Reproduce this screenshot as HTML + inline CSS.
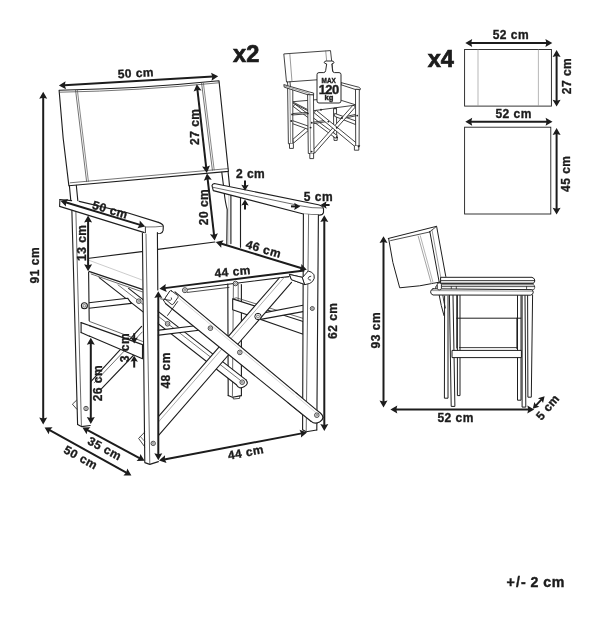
<!DOCTYPE html>
<html><head><meta charset="utf-8"><title>Chair dimensions</title>
<style>
html,body{margin:0;padding:0;background:#fff;}
body{width:608px;height:619px;overflow:hidden;font-family:"Liberation Sans",sans-serif;}
svg{display:block;filter:grayscale(1);}
</style></head><body>
<svg width="608" height="619" viewBox="0 0 608 619" font-family="'Liberation Sans', sans-serif">
<g>
<path d="M224.2 193 Q225.4 203 227.2 209.5 L226.8 244.2" fill="none" stroke="#1e1e1e" stroke-width="1.12" stroke-linejoin="round" stroke-linecap="round"/>
<line x1="228.8" y1="194.2" x2="228.8" y2="244" stroke="#999" stroke-width="0.5" stroke-linecap="round"/>
<line x1="230.9" y1="194.6" x2="230.9" y2="243.6" stroke="#1e1e1e" stroke-width="1.12" stroke-linecap="round"/>
<line x1="240.5" y1="196.8" x2="240.5" y2="247.2" stroke="#1e1e1e" stroke-width="1.12" stroke-linecap="round"/>
<line x1="227.8" y1="284" x2="228.2" y2="395.6" stroke="#1e1e1e" stroke-width="1.12" stroke-linecap="round"/>
<line x1="233.4" y1="283.5" x2="232.4" y2="396" stroke="#444" stroke-width="0.8" stroke-linecap="round"/>
<line x1="241.4" y1="284.5" x2="241.4" y2="395.6" stroke="#1e1e1e" stroke-width="1.12" stroke-linecap="round"/>
<path d="M228.2 395.6 L232.4 397.2 L241.4 395.6" fill="none" stroke="#1e1e1e" stroke-width="1.12" stroke-linejoin="round" stroke-linecap="round" />
<path d="M233 397.2 L233.4 399 L239.6 398.4 L239.8 396.2" fill="none" stroke="#1e1e1e" stroke-width="0.8" stroke-linejoin="round" stroke-linecap="round" />
<line x1="238.2" y1="284" x2="238.2" y2="300" stroke="#444" stroke-width="0.75" stroke-linecap="round"/>
<path d="M232.7 298.9 L303.2 321.5 L303.2 334.2 L232.7 309.8 Z" fill="#fff" stroke="#1e1e1e" stroke-width="1.12" stroke-linejoin="round" stroke-linecap="round" />
<path d="M232.7 298.9 L236.4 297.8 L303.2 318.4" fill="none" stroke="#444" stroke-width="0.8" stroke-linejoin="round" stroke-linecap="round" />
<polygon points="259.8,313.6 303,305.2 303,311.6 260.7,319.4" fill="#fff"/>
<line x1="259.8" y1="313.6" x2="303" y2="305.2" stroke="#1e1e1e" stroke-width="1.12" stroke-linecap="round"/>
<line x1="260.7" y1="319.4" x2="303" y2="311.6" stroke="#1e1e1e" stroke-width="1.12" stroke-linecap="round"/>
<circle cx="258" cy="316.5" r="3.2" fill="#fff" stroke="#1e1e1e" stroke-width="1.12"/>
<circle cx="258" cy="316.5" r="1.5" fill="#e8e8e8" stroke="#444" stroke-width="0.6"/>
<polygon points="112,275.4 246,379.92 236.2,384.54 99.2,277.68" fill="#fff"/>
<line x1="128.6" y1="288.35" x2="246" y2="379.92" stroke="#1e1e1e" stroke-width="1.12" stroke-linecap="round"/>
<line x1="99.2" y1="277.68" x2="236.4" y2="384.7" stroke="#1e1e1e" stroke-width="1.12" stroke-linecap="round"/>
<line x1="118" y1="284.86" x2="240" y2="380.02" stroke="#444" stroke-width="0.75" stroke-linecap="round"/>
<path d="M246 379.92 Q249.4 384 244 386.8 Q239 389.6 236.4 384.7" fill="#fff" stroke="#1e1e1e" stroke-width="1.12" stroke-linejoin="round" stroke-linecap="round"/>
<circle cx="242.2" cy="382.2" r="2.3" fill="#fff" stroke="#1e1e1e" stroke-width="0.8"/>
<circle cx="242.2" cy="382.2" r="1.03" fill="#ddd" stroke="#555" stroke-width="0.6"/>
<polygon points="141.6,326.4 90.4,382.2 101.6,388.6 142.4,346.0" fill="#fff"/>
<line x1="141.6" y1="326.4" x2="90.4" y2="382.2" stroke="#1e1e1e" stroke-width="1.12" stroke-linecap="round"/>
<line x1="142.4" y1="346" x2="101.6" y2="388.6" stroke="#1e1e1e" stroke-width="1.12" stroke-linecap="round"/>
<line x1="142.2" y1="332" x2="94.2" y2="382.8" stroke="#444" stroke-width="0.75" stroke-linecap="round"/>
<path d="M81.1 322.6 L142.5 344.6 L142.5 358.8 L81.1 332.6 Z" fill="#fff" stroke="#1e1e1e" stroke-width="1.12" stroke-linejoin="round" stroke-linecap="round" />
<path d="M81.1 322.6 L87.8 320.8 L142.5 341.4" fill="none" stroke="#444" stroke-width="0.8" stroke-linejoin="round" stroke-linecap="round" />
<path d="M86.7 303 L127.6 298.2 L131.4 303.4 L86.7 308.5" fill="#fff" stroke="#1e1e1e" stroke-width="1.12" stroke-linejoin="round" stroke-linecap="round" />
<circle cx="84.4" cy="305.8" r="3" fill="#fff" stroke="#1e1e1e" stroke-width="1.12"/>
<circle cx="84.4" cy="305.8" r="1.4" fill="#e8e8e8" stroke="#444" stroke-width="0.6"/>
<circle cx="138.8" cy="301.2" r="2.3" fill="#fff" stroke="#1e1e1e" stroke-width="0.8"/>
<circle cx="138.8" cy="301.2" r="1.03" fill="#ddd" stroke="#555" stroke-width="0.6"/>
<polygon points="88.9,271.4 142.4,289.4 142.4,292 91.2,274" fill="#fff"/>
<line x1="89.3" y1="260.4" x2="141.6" y2="279.8" stroke="#aaa" stroke-width="0.6" stroke-linecap="round"/>
<line x1="88.9" y1="271.4" x2="142.4" y2="289.4" stroke="#1e1e1e" stroke-width="1.2" stroke-linecap="round"/>
<line x1="91.2" y1="274" x2="142.4" y2="291.9" stroke="#444" stroke-width="0.8" stroke-linecap="round"/>
<line x1="89.2" y1="258.2" x2="141.8" y2="251.6" stroke="#1e1e1e" stroke-width="1.12" stroke-linecap="round"/>
<line x1="157.8" y1="249.4" x2="214.9" y2="242" stroke="#1e1e1e" stroke-width="1.12" stroke-linecap="round"/>
<path d="M187.6 289.2 L289 276.6" fill="none" stroke="#1e1e1e" stroke-width="1.12" stroke-linejoin="round" stroke-linecap="round" />
<path d="M187.4 292.4 L229 287.4" fill="none" stroke="#1e1e1e" stroke-width="0.8" stroke-linejoin="round" stroke-linecap="round" />
<circle cx="184.9" cy="290.2" r="2.5" fill="#fff" stroke="#1e1e1e" stroke-width="0.8"/>
<circle cx="184.9" cy="290.2" r="1.12" fill="#ddd" stroke="#555" stroke-width="0.6"/>
<circle cx="235.5" cy="283.5" r="2.3" fill="#fff" stroke="#1e1e1e" stroke-width="0.8"/>
<circle cx="235.5" cy="283.5" r="1.03" fill="#ddd" stroke="#555" stroke-width="0.6"/>
<path d="M155 330.6 L199.6 325.2 L203 329.8 L155 335.6" fill="#fff" stroke="#1e1e1e" stroke-width="1.12" stroke-linejoin="round" stroke-linecap="round" />
<circle cx="152.9" cy="333.2" r="2.9" fill="#fff" stroke="#1e1e1e" stroke-width="1.12"/>
<circle cx="152.9" cy="333.2" r="1.4" fill="#e8e8e8" stroke="#444" stroke-width="0.6"/>
<circle cx="167.6" cy="323.8" r="2.3" fill="#fff" stroke="#1e1e1e" stroke-width="0.8"/>
<circle cx="167.6" cy="323.8" r="1.03" fill="#ddd" stroke="#555" stroke-width="0.6"/>
<polygon points="279.7,277.5 158.4,416.6 158.4,435.6 291.5,282.4" fill="#fff"/>
<line x1="279.7" y1="277.5" x2="158.4" y2="416.6" stroke="#1e1e1e" stroke-width="1.12" stroke-linecap="round"/>
<line x1="291.5" y1="282.4" x2="158.4" y2="435.6" stroke="#1e1e1e" stroke-width="1.12" stroke-linecap="round"/>
<line x1="284.6" y1="277" x2="158.4" y2="422" stroke="#8a8a8a" stroke-width="0.7" stroke-linecap="round"/>
<circle cx="258" cy="316.5" r="3.2" fill="#fff" stroke="#1e1e1e" stroke-width="1"/>
<circle cx="258" cy="316.5" r="1.5" fill="#e8e8e8" stroke="#444" stroke-width="0.6"/>
<path d="M289.8 274.5 L302.6 277.4 L305 284.6 L291.8 279.8 Z" fill="#fff" stroke="#1e1e1e" stroke-width="0.95" stroke-linejoin="round" stroke-linecap="round" />
<path d="M302.6 277.4 L308.2 271.0 Q312.2 271.6 314.0 274.8 Q315.2 278.4 312.6 281.4 L309.8 283.4 L305.0 284.6 Z" fill="#fff" stroke="#1e1e1e" stroke-width="0.95" stroke-linejoin="round" stroke-linecap="round"/>
<path d="M310.8 276.2 Q308.4 276.2 308.2 278.4 Q308.6 280.4 310.6 280.2" fill="none" stroke="#1e1e1e" stroke-width="0.85" stroke-linejoin="round" stroke-linecap="round"/>
<polygon points="175,291.9 320.6,413.33 311.2,421.45 165.5,303.44" fill="#fff"/>
<line x1="175" y1="291.9" x2="320.6" y2="413.33" stroke="#1e1e1e" stroke-width="1.12" stroke-linecap="round"/>
<line x1="165.5" y1="303.44" x2="311.2" y2="421.45" stroke="#1e1e1e" stroke-width="1.12" stroke-linecap="round"/>
<line x1="172.6" y1="292.9" x2="318" y2="414.36" stroke="#aaa" stroke-width="0.5" stroke-linecap="round"/>
<line x1="170" y1="291.4" x2="163.6" y2="300.4" stroke="#1e1e1e" stroke-width="0.9" stroke-linecap="round"/>
<line x1="163.6" y1="300.4" x2="165.5" y2="303.44" stroke="#1e1e1e" stroke-width="0.9" stroke-linecap="round"/>
<path d="M320.6 413.33 Q325.6 417.6 320 421.6 Q315 424.8 311.2 421.45" fill="#fff" stroke="#1e1e1e" stroke-width="1.12" stroke-linejoin="round" stroke-linecap="round"/>
<line x1="177.6" y1="301.6" x2="167.6" y2="315.4" stroke="#1e1e1e" stroke-width="0.9" stroke-linecap="round"/>
<circle cx="210.4" cy="328.2" r="2.3" fill="#fff" stroke="#1e1e1e" stroke-width="0.8"/>
<circle cx="210.4" cy="328.2" r="1.03" fill="#ddd" stroke="#555" stroke-width="0.6"/>
<circle cx="239.8" cy="352.4" r="2.3" fill="#fff" stroke="#1e1e1e" stroke-width="0.8"/>
<circle cx="239.8" cy="352.4" r="1.03" fill="#ddd" stroke="#555" stroke-width="0.6"/>
<circle cx="316.8" cy="415.2" r="2.3" fill="#fff" stroke="#1e1e1e" stroke-width="0.8"/>
<circle cx="316.8" cy="415.2" r="1.03" fill="#ddd" stroke="#555" stroke-width="0.6"/>
<path d="M171.4 290.8 L177.6 295.4 Q178.6 296.4 177.8 297.6 L173.4 304 Q172.4 305 171.2 304.2 L165.8 299.6 Q164.8 298.6 165.6 297.4 L169.8 291 Q170.6 290.2 171.4 290.8 Z" fill="#fff" stroke="#1e1e1e" stroke-width="0.9" stroke-linejoin="round" stroke-linecap="round"/>
<path d="M160.6 298.8 L170.2 300.4 Q172.6 299.6 171.4 297.8" fill="none" stroke="#1e1e1e" stroke-width="0.8" stroke-linejoin="round" stroke-linecap="round"/>
<path d="M59.1 90.2 Q139 88.9 219 80.8 L228.4 171.4 L68.9 185.8 Q62.3 138 59.1 90.2 Z" fill="#fff" stroke="#1e1e1e" stroke-width="1.12" stroke-linejoin="round" stroke-linecap="round"/>
<path d="M60 92.2 Q139 90.8 218.8 82.8" fill="none" stroke="#444" stroke-width="0.75" stroke-linejoin="round" stroke-linecap="round"/>
<line x1="70.2" y1="182.8" x2="228" y2="168.6" stroke="#444" stroke-width="0.75" stroke-linecap="round"/>
<line x1="75.6" y1="90.4" x2="86.6" y2="181.5" stroke="#444" stroke-width="0.75" stroke-linecap="round"/>
<line x1="77.4" y1="90.3" x2="88.4" y2="181.3" stroke="#555" stroke-width="0.7" stroke-linecap="round"/>
<line x1="201.6" y1="83.2" x2="212.4" y2="170.2" stroke="#444" stroke-width="0.75" stroke-linecap="round"/>
<line x1="203.4" y1="83.1" x2="214.2" y2="170" stroke="#555" stroke-width="0.7" stroke-linecap="round"/>
<line x1="69.4" y1="185.8" x2="70.8" y2="200.6" stroke="#1e1e1e" stroke-width="1.12" stroke-linecap="round"/>
<line x1="76.3" y1="185.2" x2="77.9" y2="201.4" stroke="#1e1e1e" stroke-width="1.12" stroke-linecap="round"/>
<line x1="221.8" y1="172.4" x2="223.4" y2="185" stroke="#1e1e1e" stroke-width="1.12" stroke-linecap="round"/>
<line x1="228.1" y1="171.8" x2="229.5" y2="185.6" stroke="#1e1e1e" stroke-width="1.12" stroke-linecap="round"/>
<polygon points="71.8,207.5 77.6,424.5 81.4,426.6 90.2,425.5 88,213" fill="#fff"/>
<line x1="71.8" y1="207.5" x2="77.6" y2="424.5" stroke="#1e1e1e" stroke-width="1.12" stroke-linecap="round"/>
<line x1="75.8" y1="208.5" x2="81.4" y2="425.5" stroke="#444" stroke-width="0.8" stroke-linecap="round"/>
<line x1="88.6" y1="272" x2="89.2" y2="320.6" stroke="#1e1e1e" stroke-width="1.12" stroke-linecap="round"/>
<path d="M77.6 424.5 L81.4 426.6 L90.2 425.5" fill="none" stroke="#1e1e1e" stroke-width="1.12" stroke-linejoin="round" stroke-linecap="round" />
<circle cx="86" cy="408.5" r="2.2" fill="#fff" stroke="#1e1e1e" stroke-width="0.8"/>
<circle cx="86" cy="408.5" r="0.99" fill="#ddd" stroke="#555" stroke-width="0.6"/>
<path d="M76.4 400.4 L72.4 404.2 L76.8 409.2" fill="none" stroke="#1e1e1e" stroke-width="0.8" stroke-linejoin="round" stroke-linecap="round" />
<path d="M81.1 322.6 L81.1 332.6" fill="none" stroke="#1e1e1e" stroke-width="1.12" stroke-linejoin="round" stroke-linecap="round" />
<path d="M81.1 322.6 L90 325.8" fill="none" stroke="#1e1e1e" stroke-width="1.12" stroke-linejoin="round" stroke-linecap="round" />
<path d="M81.1 332.6 L90 336.4" fill="none" stroke="#1e1e1e" stroke-width="1.12" stroke-linejoin="round" stroke-linecap="round" />
<circle cx="84.4" cy="305.8" r="3" fill="#fff" stroke="#1e1e1e" stroke-width="1.12"/>
<circle cx="84.4" cy="305.8" r="1.4" fill="#e8e8e8" stroke="#444" stroke-width="0.6"/>
<polygon points="59.6,199.5 79.2,201.2 127.4,212.8 158.6,222.4 163.2,226 163,230.6 160.6,233.4 145.4,233.8 143.6,232.4 59.6,206.4" fill="#fff"/>
<path d="M59.9 199.5 L71.6 200.6" fill="none" stroke="#1e1e1e" stroke-width="1.12" stroke-linejoin="round" stroke-linecap="round" />
<path d="M79.2 201.4 L127.4 212.8 L158.4 222.4" fill="none" stroke="#1e1e1e" stroke-width="1.12" stroke-linejoin="round" stroke-linecap="round" />
<path d="M59.9 199.5 L59.6 206.4 L143.6 232.4" fill="none" stroke="#1e1e1e" stroke-width="1.12" stroke-linejoin="round" stroke-linecap="round" />
<path d="M158.4 222.4 Q162.6 223.6 163.3 226.2 L163.1 230.4 Q162.6 233 160.2 233.5 L145.4 233.8 L143.6 232.4" fill="none" stroke="#1e1e1e" stroke-width="1.12" stroke-linejoin="round" stroke-linecap="round"/>
<line x1="145.4" y1="227" x2="145.4" y2="233.8" stroke="#1e1e1e" stroke-width="0.9" stroke-linecap="round"/>
<path d="M145.4 227.0 Q156 227.2 163.2 226.2" fill="none" stroke="#444" stroke-width="0.75" stroke-linejoin="round" stroke-linecap="round"/>
<polygon points="142.4,233.2 144.8,462.6 149.8,464.4 158.4,461.6 157.4,232.6" fill="#fff"/>
<path d="M142.4 233.2 L144.8 462.6 L149.8 464.4 L158.4 461.6" fill="none" stroke="#1e1e1e" stroke-width="1.12" stroke-linejoin="round" stroke-linecap="round" />
<line x1="146" y1="234.2" x2="149.8" y2="464.4" stroke="#444" stroke-width="0.8" stroke-linecap="round"/>
<line x1="157.4" y1="232.6" x2="157.8" y2="290" stroke="#1e1e1e" stroke-width="1.12" stroke-linecap="round"/>
<circle cx="153.2" cy="443.4" r="2.2" fill="#fff" stroke="#1e1e1e" stroke-width="0.8"/>
<circle cx="153.2" cy="443.4" r="0.99" fill="#ddd" stroke="#555" stroke-width="0.6"/>
<path d="M144.6 432.2 L138.6 438.4 L144.7 446.8" fill="none" stroke="#1e1e1e" stroke-width="0.8" stroke-linejoin="round" stroke-linecap="round" />
<line x1="140.4" y1="436.6" x2="144.7" y2="441.4" stroke="#444" stroke-width="0.75" stroke-linecap="round"/>
<path d="M214.2 183.5 L318.4 204.8 Q323.4 206 323.5 209 L323.5 212.6 Q322.8 215.2 319.2 215.1 L303.4 214 L213.3 190.6 L212.0 185.6 Q212.2 184.2 214.2 183.5 Z" fill="#fff" stroke="#1e1e1e" stroke-width="1.12" stroke-linejoin="round" stroke-linecap="round"/>
<path d="M212.4 187.2 L301 205.9 Q312 208.4 322.8 208.0" fill="none" stroke="#444" stroke-width="0.8" stroke-linejoin="round" stroke-linecap="round"/>
<polygon points="303.4,214 302.6,429.8 306.2,431.8 316.8,430.0 318.4,215" fill="#fff"/>
<path d="M303.4 214 L302.6 429.8 L306.2 431.8 L316.8 430" fill="none" stroke="#1e1e1e" stroke-width="1.12" stroke-linejoin="round" stroke-linecap="round" />
<line x1="308.6" y1="214.6" x2="306.2" y2="431.8" stroke="#444" stroke-width="0.8" stroke-linecap="round"/>
<line x1="318.4" y1="215" x2="316.8" y2="430" stroke="#1e1e1e" stroke-width="1.12" stroke-linecap="round"/>
<circle cx="312.3" cy="308.5" r="2" fill="#fff" stroke="#1e1e1e" stroke-width="0.8"/>
<circle cx="312.3" cy="308.5" r="0.9" fill="#ddd" stroke="#555" stroke-width="0.6"/>
<path d="M289.8 274.5 L302.6 277.4 L305 284.6 L291.8 279.8 Z" fill="#fff" stroke="#1e1e1e" stroke-width="0.95" stroke-linejoin="round" stroke-linecap="round" />
<path d="M302.6 277.4 L308.2 271.0 Q312.2 271.6 314.0 274.8 Q315.2 278.4 312.6 281.4 L309.8 283.4 L305.0 284.6 Z" fill="#fff" stroke="#1e1e1e" stroke-width="0.95" stroke-linejoin="round" stroke-linecap="round"/>
<path d="M310.8 276.2 Q308.4 276.2 308.2 278.4 Q308.6 280.4 310.6 280.2" fill="none" stroke="#1e1e1e" stroke-width="0.85" stroke-linejoin="round" stroke-linecap="round"/>
<polygon points="296,392.81 320.6,413.33 322,419 311.2,421.45 288,402.66" fill="#fff"/>
<line x1="296" y1="392.81" x2="320.6" y2="413.33" stroke="#1e1e1e" stroke-width="1.12" stroke-linecap="round"/>
<line x1="288" y1="402.66" x2="311.2" y2="421.45" stroke="#1e1e1e" stroke-width="1.12" stroke-linecap="round"/>
<line x1="296" y1="395.91" x2="318" y2="414.36" stroke="#aaa" stroke-width="0.5" stroke-linecap="round"/>
<path d="M320.6 413.33 Q325.6 417.6 320 421.6 Q315 424.8 311.2 421.45" fill="#fff" stroke="#1e1e1e" stroke-width="1.12" stroke-linejoin="round" stroke-linecap="round"/>
<circle cx="316.8" cy="415.2" r="2.3" fill="#fff" stroke="#1e1e1e" stroke-width="0.8"/>
<circle cx="316.8" cy="415.2" r="1.03" fill="#ddd" stroke="#555" stroke-width="0.6"/>
<polygon points="58.9,85.6 65.56,81.2 64.79,85.26 66.02,89.19" fill="#1c1c1c"/>
<polygon points="218.2,76.3 211.54,80.7 212.31,76.64 211.08,72.71" fill="#1c1c1c"/>
<line x1="64.19" y1="85.29" x2="212.91" y2="76.61" stroke="#1c1c1c" stroke-width="2"/>
<text x="135.84" y="77.2" font-size="12" font-weight="bold" text-anchor="middle" fill="#1c1c1c" stroke="#1c1c1c" stroke-width="0.34" letter-spacing="0.48" transform="rotate(-3.3 135.6 72.9)">50 cm</text>
<polygon points="43.2,91.8 47.2,98.7 43.2,97.7 39.2,98.7" fill="#1c1c1c"/>
<polygon points="43.2,424.4 39.2,417.5 43.2,418.5 47.2,417.5" fill="#1c1c1c"/>
<line x1="43.2" y1="97.1" x2="43.2" y2="419.1" stroke="#1c1c1c" stroke-width="2"/>
<text x="35.04" y="269.7" font-size="12" font-weight="bold" text-anchor="middle" fill="#1c1c1c" stroke="#1c1c1c" stroke-width="0.34" letter-spacing="0.48" transform="rotate(-90 34.8 265.4)">91 cm</text>
<polygon points="196.8,84.2 201.55,90.61 197.46,90.06 193.6,91.5" fill="#1c1c1c"/>
<polygon points="206.8,172.9 202.05,166.49 206.14,167.04 210,165.6" fill="#1c1c1c"/>
<line x1="197.39" y1="89.47" x2="206.21" y2="167.63" stroke="#1c1c1c" stroke-width="2"/>
<text x="194.84" y="131.3" font-size="12" font-weight="bold" text-anchor="middle" fill="#1c1c1c" stroke="#1c1c1c" stroke-width="0.34" letter-spacing="0.48" transform="rotate(-90 194.6 127)">27 cm</text>
<polygon points="207,173.4 211.76,179.8 207.67,179.26 203.81,180.71" fill="#1c1c1c"/>
<polygon points="214.7,240.6 209.94,234.2 214.03,234.74 217.89,233.29" fill="#1c1c1c"/>
<line x1="207.6" y1="178.67" x2="214.1" y2="235.33" stroke="#1c1c1c" stroke-width="2"/>
<text x="203.44" y="211.5" font-size="12" font-weight="bold" text-anchor="middle" fill="#1c1c1c" stroke="#1c1c1c" stroke-width="0.34" letter-spacing="0.48" transform="rotate(-90 203.2 207.2)">20 cm</text>
<polygon points="60.4,200.8 68.16,198.96 66.05,202.51 65.85,206.62" fill="#1c1c1c"/>
<polygon points="145.2,226.4 137.44,228.24 139.55,224.69 139.75,220.58" fill="#1c1c1c"/>
<line x1="65.47" y1="202.33" x2="140.13" y2="224.87" stroke="#1c1c1c" stroke-width="2"/>
<text x="110.24" y="213.8" font-size="12" font-weight="bold" text-anchor="middle" fill="#1c1c1c" stroke="#1c1c1c" stroke-width="0.34" letter-spacing="0.48" transform="rotate(16.5 110 209.5)">50 cm</text>
<polygon points="88.1,215.6 92.1,222.5 88.1,221.5 84.1,222.5" fill="#1c1c1c"/>
<polygon points="88.1,271.2 84.1,264.3 88.1,265.3 92.1,264.3" fill="#1c1c1c"/>
<line x1="88.1" y1="220.9" x2="88.1" y2="265.9" stroke="#1c1c1c" stroke-width="2"/>
<text x="82.44" y="247.3" font-size="12" font-weight="bold" text-anchor="middle" fill="#1c1c1c" stroke="#1c1c1c" stroke-width="0.34" letter-spacing="0.48" transform="rotate(-90 82.2 243)">13 cm</text>
<polygon points="215.8,242 223.57,240.19 221.44,243.72 221.23,247.84" fill="#1c1c1c"/>
<polygon points="306.8,269.8 299.03,271.61 301.16,268.08 301.37,263.96" fill="#1c1c1c"/>
<line x1="220.87" y1="243.55" x2="301.73" y2="268.25" stroke="#1c1c1c" stroke-width="2"/>
<text x="263.64" y="253.1" font-size="12" font-weight="bold" text-anchor="middle" fill="#1c1c1c" stroke="#1c1c1c" stroke-width="0.34" letter-spacing="0.48" transform="rotate(16.5 263.4 248.8)">46 cm</text>
<polygon points="159.4,288.8 165.74,283.96 165.25,288.06 166.75,291.9" fill="#1c1c1c"/>
<line x1="164.66" y1="288.13" x2="304.4" y2="270.4" stroke="#1c1c1c" stroke-width="2"/>
<text x="232.64" y="275.7" font-size="12" font-weight="bold" text-anchor="middle" fill="#1c1c1c" stroke="#1c1c1c" stroke-width="0.34" letter-spacing="0.48" transform="rotate(-5.5 232.4 271.4)">44 cm</text>
<polygon points="324.3,215.2 328.3,222.1 324.3,221.1 320.3,222.1" fill="#1c1c1c"/>
<polygon points="324.3,431 320.3,424.1 324.3,425.1 328.3,424.1" fill="#1c1c1c"/>
<line x1="324.3" y1="220.5" x2="324.3" y2="425.7" stroke="#1c1c1c" stroke-width="2"/>
<text x="333.24" y="325.3" font-size="12" font-weight="bold" text-anchor="middle" fill="#1c1c1c" stroke="#1c1c1c" stroke-width="0.34" letter-spacing="0.48" transform="rotate(-90 333 321)">62 cm</text>
<polygon points="158.3,291.2 162.3,298.1 158.3,297.1 154.3,298.1" fill="#1c1c1c"/>
<polygon points="158.3,460.2 154.3,453.3 158.3,454.3 162.3,453.3" fill="#1c1c1c"/>
<line x1="158.3" y1="296.5" x2="158.3" y2="454.9" stroke="#1c1c1c" stroke-width="2"/>
<text x="165.94" y="374.9" font-size="12" font-weight="bold" text-anchor="middle" fill="#1c1c1c" stroke="#1c1c1c" stroke-width="0.34" letter-spacing="0.48" transform="rotate(-90 165.7 370.6)">48 cm</text>
<polygon points="90.8,337.8 94.8,344.7 90.8,343.7 86.8,344.7" fill="#1c1c1c"/>
<polygon points="90.8,424 86.8,417.1 90.8,418.1 94.8,417.1" fill="#1c1c1c"/>
<line x1="90.8" y1="343.1" x2="90.8" y2="418.7" stroke="#1c1c1c" stroke-width="2"/>
<text x="98.24" y="387.6" font-size="12" font-weight="bold" text-anchor="middle" fill="#1c1c1c" stroke="#1c1c1c" stroke-width="0.34" letter-spacing="0.48" transform="rotate(-90 98 383.3)">26 cm</text>
<polygon points="82.4,427.4 90.37,427.14 87.6,430.19 86.59,434.19" fill="#1c1c1c"/>
<polygon points="144.6,460.8 136.63,461.06 139.4,458.01 140.41,454.01" fill="#1c1c1c"/>
<line x1="87.07" y1="429.91" x2="139.93" y2="458.29" stroke="#1c1c1c" stroke-width="2"/>
<text x="104.84" y="452.5" font-size="12" font-weight="bold" text-anchor="middle" fill="#1c1c1c" stroke="#1c1c1c" stroke-width="0.34" letter-spacing="0.48" transform="rotate(28 104.6 448.2)">35 cm</text>
<polygon points="44.6,427.4 52.57,427.24 49.76,430.26 48.7,434.24" fill="#1c1c1c"/>
<polygon points="131.4,475.4 123.43,475.56 126.24,472.54 127.3,468.56" fill="#1c1c1c"/>
<line x1="49.24" y1="429.96" x2="126.76" y2="472.84" stroke="#1c1c1c" stroke-width="2"/>
<text x="80.84" y="461.5" font-size="12" font-weight="bold" text-anchor="middle" fill="#1c1c1c" stroke="#1c1c1c" stroke-width="0.34" letter-spacing="0.48" transform="rotate(29 80.6 457.2)">50 cm</text>
<polygon points="159,460.4 165.04,455.19 164.8,459.3 166.52,463.05" fill="#1c1c1c"/>
<polygon points="307,432.4 300.96,437.61 301.2,433.5 299.48,429.75" fill="#1c1c1c"/>
<line x1="164.21" y1="459.41" x2="301.79" y2="433.39" stroke="#1c1c1c" stroke-width="2"/>
<text x="245.84" y="456.5" font-size="12" font-weight="bold" text-anchor="middle" fill="#1c1c1c" stroke="#1c1c1c" stroke-width="0.34" letter-spacing="0.48" transform="rotate(-10.5 245.6 452.2)">44 cm</text>
<text x="250.64" y="178.1" font-size="12" font-weight="bold" text-anchor="middle" fill="#1c1c1c" stroke="#1c1c1c" stroke-width="0.34" letter-spacing="0.48">2 cm</text>
<polygon points="245,190.8 241.3,184.8 245,185.8 248.7,184.8" fill="#1c1c1c"/>
<line x1="245" y1="180.6" x2="245" y2="186.4" stroke="#1c1c1c" stroke-width="2"/>
<polygon points="245,199.4 248.7,205.4 245,204.4 241.3,205.4" fill="#1c1c1c"/>
<line x1="245" y1="209.4" x2="245" y2="203.8" stroke="#1c1c1c" stroke-width="2"/>
<text x="318.44" y="200.9" font-size="12" font-weight="bold" text-anchor="middle" fill="#1c1c1c" stroke="#1c1c1c" stroke-width="0.34" letter-spacing="0.48">5 cm</text>
<polygon points="300.2,206.4 294.2,210.1 295.2,206.4 294.2,202.7" fill="#1c1c1c"/>
<line x1="291" y1="206.4" x2="295.8" y2="206.4" stroke="#1c1c1c" stroke-width="2"/>
<polygon points="320.6,205 326.6,201.3 325.6,205 326.6,208.7" fill="#1c1c1c"/>
<line x1="329.6" y1="205" x2="325" y2="205" stroke="#1c1c1c" stroke-width="2"/>
<text x="125.04" y="352.1" font-size="12" font-weight="bold" text-anchor="middle" fill="#1c1c1c" stroke="#1c1c1c" stroke-width="0.34" letter-spacing="0.48" transform="rotate(-90 124.8 347.8)">3 cm</text>
<polygon points="134.2,343.6 130.5,337.6 134.2,338.6 137.9,337.6" fill="#1c1c1c"/>
<line x1="134.2" y1="333.2" x2="134.2" y2="339.2" stroke="#1c1c1c" stroke-width="2"/>
<polygon points="134.2,355.8 137.9,361.8 134.2,360.8 130.5,361.8" fill="#1c1c1c"/>
<line x1="134.2" y1="367.6" x2="134.2" y2="360.2" stroke="#1c1c1c" stroke-width="2"/>
<path d="M333.5 104 L333.7 137.2 L336.7 137.2 L336.5 104 Z" fill="#fff" stroke="#222" stroke-width="0.85" stroke-linejoin="round" stroke-linecap="round" />
<path d="M334 137.2 L334 140.4 L337.2 140.4 L337.2 137.2" fill="#fff" stroke="#222" stroke-width="0.85" stroke-linejoin="round" stroke-linecap="round" />
<path d="M335 113.5 L355.7 120.9 L355.7 124.6 L335 116.5 Z" fill="#fff" stroke="#222" stroke-width="0.85" stroke-linejoin="round" stroke-linecap="round" />
<path d="M341.6 117.4 L355.7 114.4 L355.7 115.8 L341.6 118.8 Z" fill="#fff" stroke="#222" stroke-width="0.85" stroke-linejoin="round" stroke-linecap="round" />
<path d="M295.5 104.6 L337.2 135.6 L335.6 138.2 L293.4 106.6 Z" fill="#fff" stroke="#222" stroke-width="0.85" stroke-linejoin="round" stroke-linecap="round" />
<path d="M307.6 126.6 L292.8 139.4 L293.4 143.2 L308.2 130.6 Z" fill="#fff" stroke="#222" stroke-width="0.85" stroke-linejoin="round" stroke-linecap="round" />
<path d="M291.3 120.2 L308.3 126.1 L308.3 129.4 L291.3 123.2 Z" fill="#fff" stroke="#222" stroke-width="0.85" stroke-linejoin="round" stroke-linecap="round" />
<path d="M292 113.6 L307.6 112.4 L307.6 113.8 L292 115 Z" fill="#fff" stroke="#222" stroke-width="0.85" stroke-linejoin="round" stroke-linecap="round" />
<path d="M312 122.4 L326.8 120.2 L326.8 121.6 L312 123.8 Z" fill="#fff" stroke="#222" stroke-width="0.85" stroke-linejoin="round" stroke-linecap="round" />
<path d="M292.8 101.7 L317.2 99.6 L341.4 100.4 L356.2 105 L313.5 110.7 L308 109.6 Z" fill="#fff" stroke="#222" stroke-width="0.85" stroke-linejoin="round" stroke-linecap="round" />
<line x1="292.8" y1="103" x2="308" y2="110.8" stroke="#222" stroke-width="0.85" stroke-linecap="round"/>
<path d="M352.8 105.4 L312.6 150.6 L314.6 153.2 L355.2 107.2 Z" fill="#fff" stroke="#222" stroke-width="0.85" stroke-linejoin="round" stroke-linecap="round" />
<path d="M316.6 110.6 L359.6 145.6 L357.4 148.6 L314.2 112.8 Z" fill="#fff" stroke="#222" stroke-width="0.85" stroke-linejoin="round" stroke-linecap="round" />
<path d="M284.2 53.9 L330.5 50.6 L333.6 78.6 L286.9 82 Z" fill="#fff" stroke="#222" stroke-width="0.85" stroke-linejoin="round" stroke-linecap="round" />
<line x1="289.8" y1="53.6" x2="292" y2="81.6" stroke="#555" stroke-width="0.6" stroke-linecap="round"/>
<line x1="325.7" y1="51" x2="328.4" y2="79" stroke="#555" stroke-width="0.6" stroke-linecap="round"/>
<line x1="287.4" y1="82" x2="287.8" y2="85.4" stroke="#222" stroke-width="0.85" stroke-linecap="round"/>
<line x1="290" y1="81.8" x2="290.4" y2="86.2" stroke="#222" stroke-width="0.85" stroke-linecap="round"/>
<path d="M287.6 87.4 L288.4 143.8 L292.8 143.8 L292.8 89.4 Z" fill="#fff" stroke="#222" stroke-width="0.85" stroke-linejoin="round" stroke-linecap="round" />
<line x1="289.9" y1="88.2" x2="290.6" y2="143.8" stroke="#555" stroke-width="0.6" stroke-linecap="round"/>
<path d="M289.5 143.8 L289.5 148.4 L293.4 148.4 L293.4 143.8" fill="#fff" stroke="#222" stroke-width="0.85" stroke-linejoin="round" stroke-linecap="round" />
<path d="M284.2 84.7 L309.8 92.1 L313.6 93 L313.6 95.2 L309.1 95.2 L284.6 87.3 Z" fill="#fff" stroke="#222" stroke-width="0.85" stroke-linejoin="round" stroke-linecap="round" />
<line x1="284.4" y1="85.9" x2="309.4" y2="93.5" stroke="#555" stroke-width="0.6" stroke-linecap="round"/>
<path d="M307.6 95 L308.3 153.5 L314 153.5 L313.5 95.2 Z" fill="#fff" stroke="#222" stroke-width="0.85" stroke-linejoin="round" stroke-linecap="round" />
<line x1="309.9" y1="95.2" x2="310.6" y2="153.5" stroke="#555" stroke-width="0.6" stroke-linecap="round"/>
<path d="M309.8 153.5 L309.8 158.6 L313.6 158.6 L313.6 153.5" fill="#fff" stroke="#222" stroke-width="0.85" stroke-linejoin="round" stroke-linecap="round" />
<path d="M341.4 82.7 L358.7 87.2 L360.4 88.4 L360.2 89.8 L355.7 89.6 L341.4 84.9 Z" fill="#fff" stroke="#222" stroke-width="0.85" stroke-linejoin="round" stroke-linecap="round" />
<path d="M355.5 89.6 L355.7 146 L359.1 146 L359.3 89.8 Z" fill="#fff" stroke="#222" stroke-width="0.85" stroke-linejoin="round" stroke-linecap="round" />
<path d="M354.4 146 L354.4 150.2 L358.8 150.2 L358.8 146" fill="#fff" stroke="#222" stroke-width="0.85" stroke-linejoin="round" stroke-linecap="round" />
<circle cx="292.1" cy="114.4" r="0.95" fill="#222"/>
<circle cx="307.8" cy="113.4" r="0.95" fill="#222"/>
<circle cx="311.8" cy="122.8" r="0.95" fill="#222"/>
<circle cx="321" cy="109.8" r="0.95" fill="#222"/>
<circle cx="335" cy="108.4" r="0.95" fill="#222"/>
<circle cx="328.4" cy="121.6" r="0.95" fill="#222"/>
<circle cx="342" cy="118" r="0.95" fill="#222"/>
<circle cx="336.8" cy="127.8" r="0.95" fill="#222"/>
<circle cx="358.6" cy="146.4" r="0.95" fill="#222"/>
<circle cx="337" cy="137.4" r="0.95" fill="#222"/>
<circle cx="357.2" cy="115.6" r="0.95" fill="#222"/>
<circle cx="311.6" cy="151.6" r="0.95" fill="#222"/>
<circle cx="291.2" cy="121" r="0.95" fill="#222"/>
<circle cx="310.6" cy="127.6" r="0.95" fill="#222"/>
<path d="M326.3 63.9 Q324.0 63.5 324.2 62.2 Q324.6 61.0 326.4 61.0 L331.8 61.0 Q333.6 61.0 334.0 62.2 Q334.2 63.5 331.8 63.9 L332.6 71.0 Q332.8 72.4 334.4 72.6 L339.0 72.6 Q341.0 72.6 341.0 74.6 L341.0 101.0 Q341.0 103.0 339.0 103.0 L319.0 103.0 Q317.0 103.0 317.0 101.0 L317.0 74.6 Q317.0 72.6 319.0 72.6 L323.8 72.6 Q325.4 72.4 325.6 71.0 Z" fill="#fff" stroke="#1e1e1e" stroke-width="0.95" stroke-linejoin="round" stroke-linecap="round"/>
<text x="328.75" y="83.19" font-size="6.4" font-weight="bold" text-anchor="middle" fill="#1c1c1c" stroke="#1c1c1c" stroke-width="0.35" letter-spacing="0.1">MAX</text>
<text x="328.6" y="94.15" font-size="13" font-weight="bold" text-anchor="middle" fill="#1c1c1c" stroke="#1c1c1c" stroke-width="0.4" letter-spacing="-0.6">120</text>
<text x="328.9" y="100.42" font-size="7.6" font-weight="bold" text-anchor="middle" fill="#1c1c1c" stroke="#1c1c1c" stroke-width="0.4" letter-spacing="0">kg</text>
<path d="M457.4 295 L457.4 395.6 L460 395.6 L460 295" fill="#fff" stroke="#1e1e1e" stroke-width="1" stroke-linejoin="round" stroke-linecap="round" />
<path d="M444.6 296 L444.4 398.2 L448 398.2 L448 296" fill="#fff" stroke="#1e1e1e" stroke-width="1" stroke-linejoin="round" stroke-linecap="round" />
<path d="M449.4 295 L451.2 406.4 L454.9 406.4 L453 295" fill="#fff" stroke="#1e1e1e" stroke-width="1" stroke-linejoin="round" stroke-linecap="round" />
<line x1="456.7" y1="295" x2="456.7" y2="348" stroke="#1e1e1e" stroke-width="0.85" stroke-linecap="round"/>
<path d="M439 294.2 Q441 306 444 315.6" fill="none" stroke="#1e1e1e" stroke-width="1" stroke-linejoin="round" stroke-linecap="round"/>
<path d="M442.7 294.2 Q443.6 302 445.4 308" fill="none" stroke="#1e1e1e" stroke-width="0.85" stroke-linejoin="round" stroke-linecap="round"/>
<path d="M527.6 295 L527.9 397.2 L531.3 397.2 L532.6 295" fill="#fff" stroke="#1e1e1e" stroke-width="1" stroke-linejoin="round" stroke-linecap="round" />
<path d="M517.5 295 L517.5 400.2 L521 400.2 L521 295" fill="#fff" stroke="#1e1e1e" stroke-width="1" stroke-linejoin="round" stroke-linecap="round" />
<path d="M522.1 295 L522.1 407.1 L525.8 407.1 L525 295" fill="#fff" stroke="#1e1e1e" stroke-width="1" stroke-linejoin="round" stroke-linecap="round" />
<line x1="516.8" y1="318.2" x2="516.8" y2="348.6" stroke="#1e1e1e" stroke-width="0.85" stroke-linecap="round"/>
<line x1="456.7" y1="318.2" x2="520.8" y2="318.2" stroke="#1e1e1e" stroke-width="1" stroke-linecap="round"/>
<line x1="459.4" y1="347.6" x2="517.5" y2="347.6" stroke="#1e1e1e" stroke-width="0.85" stroke-linecap="round"/>
<path d="M452.4 350.4 L521.4 350.4 L521.4 357.6 L452.4 357.6 Z" fill="#fff" stroke="#1e1e1e" stroke-width="1" stroke-linejoin="round" stroke-linecap="round" />
<path d="M388.6 238.4 L436.6 226.3 L445.8 276.6 L441 281.6 L439.2 282.2 Q420 286.6 399.7 287.8 Q391.6 262 388.6 238.4 Z" fill="#fff" stroke="#1e1e1e" stroke-width="1" stroke-linejoin="round" stroke-linecap="round"/>
<line x1="390.6" y1="240.6" x2="429.6" y2="232" stroke="#1e1e1e" stroke-width="0.8" stroke-linecap="round"/>
<line x1="429.6" y1="232" x2="436.6" y2="226.3" stroke="#1e1e1e" stroke-width="0.8" stroke-linecap="round"/>
<line x1="429.8" y1="231.4" x2="439.2" y2="282.2" stroke="#1e1e1e" stroke-width="1" stroke-linecap="round"/>
<line x1="432" y1="230" x2="441.4" y2="280.8" stroke="#555" stroke-width="0.6" stroke-linecap="round"/>
<line x1="418.2" y1="236.2" x2="431.3" y2="283.4" stroke="#9a9a9a" stroke-width="0.9" stroke-linecap="round"/>
<line x1="420.3" y1="235.8" x2="433.2" y2="283" stroke="#ababab" stroke-width="0.9" stroke-linecap="round"/>
<path d="M441 277.3 L532 277.3 Q535.2 278.4 534.8 281 Q534.4 283 533 283.6 L441 283.6 Z" fill="#fff" stroke="#1e1e1e" stroke-width="1" stroke-linejoin="round" stroke-linecap="round"/>
<line x1="441" y1="280.6" x2="534.6" y2="280.6" stroke="#1e1e1e" stroke-width="0.85" stroke-linecap="round"/>
<line x1="441" y1="282.4" x2="533.6" y2="282.4" stroke="#555" stroke-width="0.5" stroke-linecap="round"/>
<path d="M441.4 284.8 L534 284.8 Q535.6 287 534 289.6 L441.4 289.6" fill="#fff" stroke="#1e1e1e" stroke-width="0.7" stroke-linejoin="round" stroke-linecap="round"/>
<line x1="441.4" y1="286.6" x2="534.6" y2="286.6" stroke="#1e1e1e" stroke-width="0.75" stroke-linecap="round"/>
<line x1="451.3" y1="286.6" x2="451.3" y2="289.4" stroke="#1e1e1e" stroke-width="0.75" stroke-linecap="round"/>
<line x1="456.3" y1="286.6" x2="456.3" y2="289.4" stroke="#1e1e1e" stroke-width="0.75" stroke-linecap="round"/>
<line x1="526.6" y1="286.6" x2="526.6" y2="289.4" stroke="#1e1e1e" stroke-width="0.75" stroke-linecap="round"/>
<rect x="437.3" y="283.0" width="4.1" height="6.8" rx="1.6" fill="#fff" stroke="#1e1e1e" stroke-width="0.8"/>
<path d="M437.3 285 Q435.2 285.4 435.4 288.8" fill="none" stroke="#1e1e1e" stroke-width="0.85" stroke-linejoin="round" stroke-linecap="round"/>
<path d="M433 288.8 L531.4 289.7 Q533.6 290.6 533.2 292.8 Q532.6 295 530.4 295.2 L433 295 Q430.4 294 430.6 291.8 Q430.8 289.4 433 288.8 Z" fill="#fff" stroke="#1e1e1e" stroke-width="1" stroke-linejoin="round" stroke-linecap="round"/>
<line x1="432" y1="290.6" x2="532.8" y2="291.2" stroke="#555" stroke-width="0.6" stroke-linecap="round"/>
<rect x="437.3" y="283.0" width="4.1" height="6.8" rx="1.6" fill="#fff" stroke="#1e1e1e" stroke-width="0.8"/>
<polygon points="383.5,236.2 387.5,243.1 383.5,242.1 379.5,243.1" fill="#1c1c1c"/>
<polygon points="383.5,407.4 379.5,400.5 383.5,401.5 387.5,400.5" fill="#1c1c1c"/>
<line x1="383.5" y1="241.5" x2="383.5" y2="402.1" stroke="#1c1c1c" stroke-width="2"/>
<text x="376.04" y="334.7" font-size="12" font-weight="bold" text-anchor="middle" fill="#1c1c1c" stroke="#1c1c1c" stroke-width="0.34" letter-spacing="0.48" transform="rotate(-90 375.8 330.4)">93 cm</text>
<polygon points="390.4,409.6 397.3,405.6 396.3,409.6 397.3,413.6" fill="#1c1c1c"/>
<polygon points="534.2,409.6 527.3,413.6 528.3,409.6 527.3,405.6" fill="#1c1c1c"/>
<line x1="395.7" y1="409.6" x2="528.9" y2="409.6" stroke="#1c1c1c" stroke-width="2"/>
<text x="455.64" y="421.9" font-size="12" font-weight="bold" text-anchor="middle" fill="#1c1c1c" stroke="#1c1c1c" stroke-width="0.34" letter-spacing="0.48">52 cm</text>
<polygon points="532.8,408.8 534.35,402.03 536.22,405.15 539.46,406.81" fill="#1c1c1c"/>
<polygon points="544.6,396.2 543.05,402.97 541.18,399.85 537.94,398.19" fill="#1c1c1c"/>
<line x1="535.81" y1="405.59" x2="541.59" y2="399.41" stroke="#1c1c1c" stroke-width="1.9"/>
<text x="547.64" y="411.5" font-size="12" font-weight="bold" text-anchor="middle" fill="#1c1c1c" stroke="#1c1c1c" stroke-width="0.34" letter-spacing="0.48" transform="rotate(-50 547.4 407.2)">5 cm</text>
<text x="246.2" y="61.85" font-size="23.6" font-weight="bold" text-anchor="middle" fill="#1c1c1c" stroke="#1c1c1c" stroke-width="0.7" letter-spacing="0">x2</text>
<text x="440.8" y="66.75" font-size="23.6" font-weight="bold" text-anchor="middle" fill="#1c1c1c" stroke="#1c1c1c" stroke-width="0.7" letter-spacing="0">x4</text>
<text x="506.6" y="587.35" font-size="14.2" font-weight="bold" fill="#1c1c1c" stroke="#1c1c1c" stroke-width="0.4" letter-spacing="1.1">+/-</text>
<text x="530.6" y="587.35" font-size="14.2" font-weight="bold" fill="#1c1c1c" stroke="#1c1c1c" stroke-width="0.4" letter-spacing="0.45">2 cm</text>
<rect x="464.6" y="49.5" width="86.8" height="56.6" fill="#fff" stroke="#1e1e1e" stroke-width="0.9"/>
<line x1="478" y1="49.8" x2="478" y2="105.8" stroke="#999" stroke-width="0.7" stroke-linecap="round"/>
<line x1="538.4" y1="49.8" x2="538.4" y2="105.8" stroke="#999" stroke-width="0.7" stroke-linecap="round"/>
<polygon points="465.3,42.9 472.2,38.9 471.2,42.9 472.2,46.9" fill="#1c1c1c"/>
<polygon points="552.3,42.9 545.4,46.9 546.4,42.9 545.4,38.9" fill="#1c1c1c"/>
<line x1="470.6" y1="42.9" x2="547" y2="42.9" stroke="#1c1c1c" stroke-width="2"/>
<text x="510.94" y="38.8" font-size="12" font-weight="bold" text-anchor="middle" fill="#1c1c1c" stroke="#1c1c1c" stroke-width="0.34" letter-spacing="0.48">52 cm</text>
<polygon points="556.6,50 560.6,56.9 556.6,55.9 552.6,56.9" fill="#1c1c1c"/>
<polygon points="556.6,106.6 552.6,99.7 556.6,100.7 560.6,99.7" fill="#1c1c1c"/>
<line x1="556.6" y1="55.3" x2="556.6" y2="101.3" stroke="#1c1c1c" stroke-width="2"/>
<text x="566.64" y="80.5" font-size="12" font-weight="bold" text-anchor="middle" fill="#1c1c1c" stroke="#1c1c1c" stroke-width="0.34" letter-spacing="0.48" transform="rotate(-90 566.4 76.2)">27 cm</text>
<rect x="464.6" y="127.2" width="86.2" height="86.8" fill="#fff" stroke="#1e1e1e" stroke-width="0.9"/>
<polygon points="465.3,121.8 472.2,117.8 471.2,121.8 472.2,125.8" fill="#1c1c1c"/>
<polygon points="552.5,121.8 545.6,125.8 546.6,121.8 545.6,117.8" fill="#1c1c1c"/>
<line x1="470.6" y1="121.8" x2="547.2" y2="121.8" stroke="#1c1c1c" stroke-width="2"/>
<text x="513.64" y="118.2" font-size="12" font-weight="bold" text-anchor="middle" fill="#1c1c1c" stroke="#1c1c1c" stroke-width="0.34" letter-spacing="0.48">52 cm</text>
<polygon points="556.6,128 560.6,134.9 556.6,133.9 552.6,134.9" fill="#1c1c1c"/>
<polygon points="556.6,214.6 552.6,207.7 556.6,208.7 560.6,207.7" fill="#1c1c1c"/>
<line x1="556.6" y1="133.3" x2="556.6" y2="209.3" stroke="#1c1c1c" stroke-width="2"/>
<text x="565.64" y="178.3" font-size="12" font-weight="bold" text-anchor="middle" fill="#1c1c1c" stroke="#1c1c1c" stroke-width="0.34" letter-spacing="0.48" transform="rotate(-90 565.4 174)">45 cm</text>
</g>
</svg>
</body></html>
